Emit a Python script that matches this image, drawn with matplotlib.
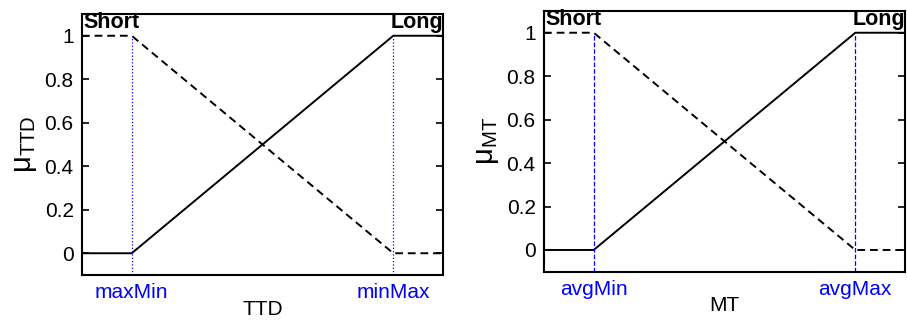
import matplotlib
matplotlib.use('Agg')
import matplotlib.pyplot as plt

plt.rcParams['font.family'] = ['Liberation Sans', 'DejaVu Sans']
plt.rcParams['mathtext.fontset'] = 'custom'
plt.rcParams['mathtext.rm'] = 'Liberation Sans'
plt.rcParams['mathtext.it'] = 'Liberation Sans'

# membership functions, break points at 0 and 1
x_pts = [-0.19, 0, 1, 1.19]
short_vals = [1, 1, 0, 0]
long_vals = [0, 0, 1, 1]
y_ticks = [0, 0.2, 0.4, 0.6, 0.8, 1]
y_ticklabels = ['0', '0.2', '0.4', '0.6', '0.8', '1']

panels = [
    {'xlabel': 'TTD', 'ylabel': r'$\mathregular{\mu_{TTD}}$',
     'xticklabels': ['maxMin', 'minMax'], 'vstyle': ':',
     'rect': [0.0904, 0.1433, 0.398, 0.8131]},
    {'xlabel': 'MT', 'ylabel': r'$\mathregular{\mu_{MT}}$',
     'xticklabels': ['avgMin', 'avgMax'], 'vstyle': '--',
     'rect': [0.5998, 0.1536, 0.398, 0.8121]},
]

fig = plt.figure(figsize=(9.07, 3.21), dpi=100)

for p in panels:
    ax = fig.add_axes(p['rect'])
    ax.plot(x_pts, short_vals, color='black', linestyle='--', linewidth=1.4, dashes=(4, 2.5))
    ax.plot(x_pts, long_vals, color='black', linestyle='-', linewidth=1.4)
    for xv in [0, 1]:
        ax.plot([xv, xv], [-0.1, 1], color='blue', linestyle=p['vstyle'], linewidth=0.9)
    ax.set_xlim(x_pts[0], x_pts[-1])
    ax.set_ylim(-0.1, 1.1)
    ax.set_yticks(y_ticks)
    ax.set_yticklabels(y_ticklabels)
    ax.set_xticks([0, 1])
    ax.set_xticklabels(p['xticklabels'], color='blue')
    ax.tick_params(axis='both', direction='in', labelsize=15, width=1.2, length=5,
                   right=True, top=False)
    ax.tick_params(axis='x', length=0, pad=6)
    ax.tick_params(axis='y', pad=6)
    ax.set_xlabel(p['xlabel'], fontsize=15, labelpad=-2)
    ax.set_ylabel(p['ylabel'], fontsize=21, labelpad=4)
    for s in ax.spines.values():
        s.set_linewidth(1.5)
    ax.text(x_pts[0] + 0.005, 1.012, 'Short', fontsize=15.5, fontweight='bold',
            ha='left', va='bottom')
    ax.text(x_pts[-1], 1.012, 'Long', fontsize=15.5, fontweight='bold',
            ha='right', va='bottom')

plt.savefig('out.png', dpi=100)
plt.close()
